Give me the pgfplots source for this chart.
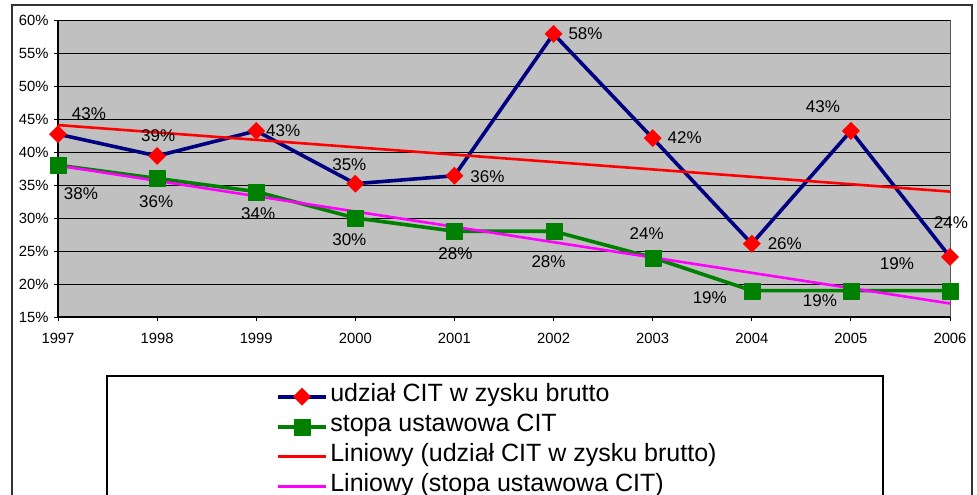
\documentclass[border=0pt]{standalone}
\usepackage{fontspec}
\setmainfont{Liberation Sans}
\usepackage{pgfplots}
\usepackage{pgfplotstable}
\pgfplotsset{compat=1.18}
\definecolor{navyline}{HTML}{000080}
\definecolor{greenline}{HTML}{008000}
\definecolor{plotgray}{HTML}{C0C0C0}
\definecolor{trendred}{HTML}{FF0000}
\definecolor{trendmag}{HTML}{FF00FF}

\pgfplotstableread{
year val dx dy
1997 42.7 31 21
1998 39.4 1 20
1999 43.2 27 0
2000 35.2 -6 19
2001 36.4 33 -1
2002 57.9 32 0
2003 42.1 32 1
2004 26.1 33 0
2005 43.2 -28 24
2006 24.1 1 34
}\udzial

\pgfplotstableread{
year val dx dy
1997 38 23 -28
1998 36 -1 -23
1999 34 2 -22
2000 30 -6 -22
2001 28 1 -22
2002 28 -5 -30
2003 24 -6 24
2004 19 -42 -7
2005 19 -31 -10
2006 19 -53 27
}\stopa

\pgfplotstableread{
year val
1997 44.08
2006 34.00
}\trendudzial

\pgfplotstableread{
year val
1997 37.95
2006 17.05
}\trendstopa

\begin{document}
\begin{tikzpicture}
\clip (-58pt,-178pt) rectangle (919pt,317pt);
\fill[white] (-58pt,-178pt) rectangle (919pt,317pt);
\draw[line width=1.6pt, black!80] (-46pt,312pt) rectangle (914pt,-260pt);
\draw[line width=1.2pt, black] (49pt,-59pt) rectangle (825pt,-260pt);
\begin{axis}[
  at={(0pt,0pt)}, anchor=south west,
  scale only axis, width=892pt, height=297pt,
  xmin=1997, xmax=2006, ymin=15, ymax=60,
  xtick={1997,1998,...,2006}, ytick={15,20,...,60},
  /pgf/number format/assume math mode=true,
  x tick label style={/pgf/number format/1000 sep={}, yshift=-9pt},
  y tick label style={xshift=-2pt},
  yticklabel={\pgfmathprintnumber{\tick}\%},
  tick label style={font=\fontsize{14.8}{16}\selectfont, text=black},
  axis x line*=bottom, axis y line*=left,
  axis line style={-, black, line width=1.2pt},
  tick align=outside, major tick length=4pt,
  tick style={black, line width=0.9pt},
  ymajorgrids, grid style={black, line width=0.9pt},
  axis background/.style={fill=plotgray, draw=gray!70!black, line width=1pt},
  clip=false,
  legend cell align=left,
  legend image code/.code={\draw[mark repeat=2, mark phase=2, #1] plot coordinates {(0pt,0pt) (24pt,0pt) (48pt,0pt)};},
  legend style={
    at={(axis description cs:0.2444,-0.2172)}, anchor=north west,
    draw=none, fill=none, inner sep=0pt, row sep=0pt, column sep=0pt,
    font=\fontsize{25}{28}\selectfont,
    nodes={inner xsep=2.5pt, inner ysep=0pt, text height=19.5pt, text depth=10.5pt},
  },
]
\addplot[navyline, line width=3.6pt, line join=round,
  mark=square*, mark size=6.2pt,
  mark options={solid, rotate=45, fill=trendred, draw=trendred, line width=0.1pt},
  point meta=y,
  visualization depends on={\thisrow{dx} \as \labeldx},
  visualization depends on={\thisrow{dy} \as \labeldy},
  nodes near coords={\pgfmathprintnumber[fixed,precision=0]{\pgfplotspointmeta}\%},
  every node near coord/.append style={anchor=center, xshift=\labeldx pt, yshift=\labeldy pt, text=black, font=\fontsize{17}{18}\selectfont, inner sep=0pt},
] table[x=year, y=val] {\udzial};
\addlegendentry{udział CIT w zysku brutto}

\addplot[greenline, line width=3.6pt, line join=round,
  mark=square*, mark size=8pt,
  mark options={solid, fill=greenline, draw=greenline, line width=0.1pt},
  point meta=y,
  visualization depends on={\thisrow{dx} \as \labeldx},
  visualization depends on={\thisrow{dy} \as \labeldy},
  nodes near coords={\pgfmathprintnumber[fixed,precision=0]{\pgfplotspointmeta}\%},
  every node near coord/.append style={anchor=center, xshift=\labeldx pt, yshift=\labeldy pt, text=black, font=\fontsize{17}{18}\selectfont, inner sep=0pt},
] table[x=year, y=val] {\stopa};
\addlegendentry{stopa ustawowa CIT}

\addplot[trendred, line width=2.6pt, no marks] table[x=year, y=val] {\trendudzial};
\addlegendentry{Liniowy (udział CIT w zysku brutto)}

\addplot[trendmag, line width=2.6pt, no marks] table[x=year, y=val] {\trendstopa};
\addlegendentry{Liniowy (stopa ustawowa CIT)}
\end{axis}
\end{tikzpicture}
\end{document}
